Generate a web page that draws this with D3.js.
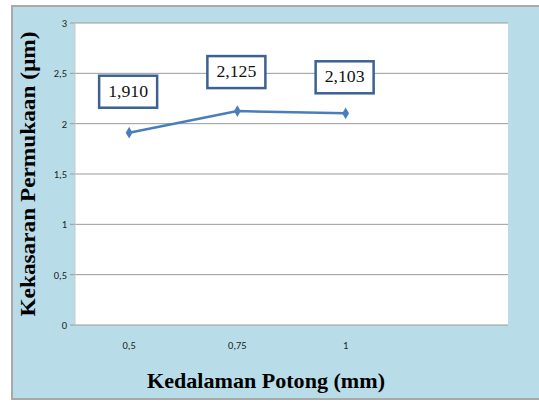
<!DOCTYPE html>
<html><head><meta charset="utf-8">
<script src="https://cdn.jsdelivr.net/npm/d3@7"></script>
<style>body{margin:0;background:#fff}svg{display:block}</style>
</head><body>
<svg id="c" width="539" height="403"></svg>
<script>
const categories = ["0,5", "0,75", "1", ""];
const values = [1.910, 2.125, 2.103];
const valueLabels = ["1,910", "2,125", "2,103"];
const yTicks = [0, 0.5, 1, 1.5, 2, 2.5, 3];
const yTickLabels = ["0", "0,5", "1", "1,5", "2", "2,5", "3"];

const svg = d3.select("#c");
// outer frame
svg.append("rect").attr("x", 12).attr("y", 6).attr("width", 540).attr("height", 393)
  .attr("fill", "#b8dde8").attr("stroke", "#a9a9a9").attr("stroke-width", 2);

const m = {l: 75, r: 508, t: 23, b: 325};
svg.append("rect").attr("x", m.l).attr("y", m.t).attr("width", m.r - m.l).attr("height", m.b - m.t)
  .attr("fill", "#fff");

const x = d3.scaleBand().domain(categories).range([m.l, m.r]);
const y = d3.scaleLinear().domain([0, 3]).range([m.b, m.t]);

// grid
svg.append("g").selectAll("line").data(yTicks).join("line")
  .attr("x1", m.l - 5).attr("x2", m.r).attr("y1", d => y(d)).attr("y2", d => y(d))
  .attr("stroke", "#9a9a9a").attr("stroke-width", 1);

// y axis line
svg.append("line").attr("x1", m.l).attr("x2", m.l).attr("y1", m.t).attr("y2", m.b)
  .attr("stroke", "#c8c8c8").attr("stroke-width", 1);

// y tick labels
const yAxis = d3.axisLeft(y).tickValues(yTicks).tickFormat((d, i) => yTickLabels[i]).tickSize(0).tickPadding(8);
const ga = svg.append("g").attr("transform", `translate(${m.l},0)`).call(yAxis);
ga.select(".domain").remove();
ga.selectAll("text").attr("font-family", "Carlito, 'Liberation Sans', sans-serif").attr("font-size", 10.5).attr("fill", "#222");

// x tick labels
const xAxis = d3.axisBottom(x).tickSize(0).tickPadding(17);
const gx = svg.append("g").attr("transform", `translate(0,${m.b})`).call(xAxis);
gx.select(".domain").remove();
gx.selectAll("text").attr("font-family", "Carlito, 'Liberation Sans', sans-serif").attr("font-size", 10.5).attr("fill", "#222");

// line
const pts = values.map((v, i) => [x(categories[i]) + x.bandwidth() / 2, y(v)]);
svg.append("path").attr("d", d3.line()(pts)).attr("fill", "none")
  .attr("stroke", "#4a7ebb").attr("stroke-width", 2.5);
svg.append("g").selectAll("path").data(pts).join("path")
  .attr("transform", d => `translate(${d[0]},${d[1]})`)
  .attr("d", d3.symbol(d3.symbolDiamond, 40)())
  .attr("fill", "#4a7ebb");

// data labels
const offsets = [-42, -40, -37];
const lab = svg.append("g").selectAll("g").data(pts).join("g")
  .attr("transform", (d, i) => `translate(${d[0] - 1},${d[1] + offsets[i]})`);
lab.append("rect").attr("x", -29).attr("y", -15).attr("width", 58).attr("height", 32)
  .attr("fill", "#fff").attr("stroke", "#3b6291").attr("stroke-width", 2.5);
lab.append("text").text((d, i) => valueLabels[i]).attr("text-anchor", "middle").attr("y", 6)
  .attr("font-family", "'Liberation Serif', serif").attr("font-size", 16)
  .attr("textLength", 40).attr("lengthAdjust", "spacingAndGlyphs").attr("fill", "#111");

// axis titles
svg.append("text").text("Kekasaran Permukaan (µm)")
  .attr("transform", "translate(35,174) rotate(-90)").attr("text-anchor", "middle")
  .attr("font-family", "'Liberation Serif', serif").attr("font-weight", "bold").attr("font-size", 20)
  .attr("textLength", 285).attr("lengthAdjust", "spacingAndGlyphs").attr("fill", "#000");
svg.append("text").text("Kedalaman Potong (mm)")
  .attr("x", 266).attr("y", 388).attr("text-anchor", "middle")
  .attr("font-family", "'Liberation Serif', serif").attr("font-weight", "bold").attr("font-size", 22)
  .attr("textLength", 238).attr("lengthAdjust", "spacingAndGlyphs").attr("fill", "#000");
</script>
</body></html>
